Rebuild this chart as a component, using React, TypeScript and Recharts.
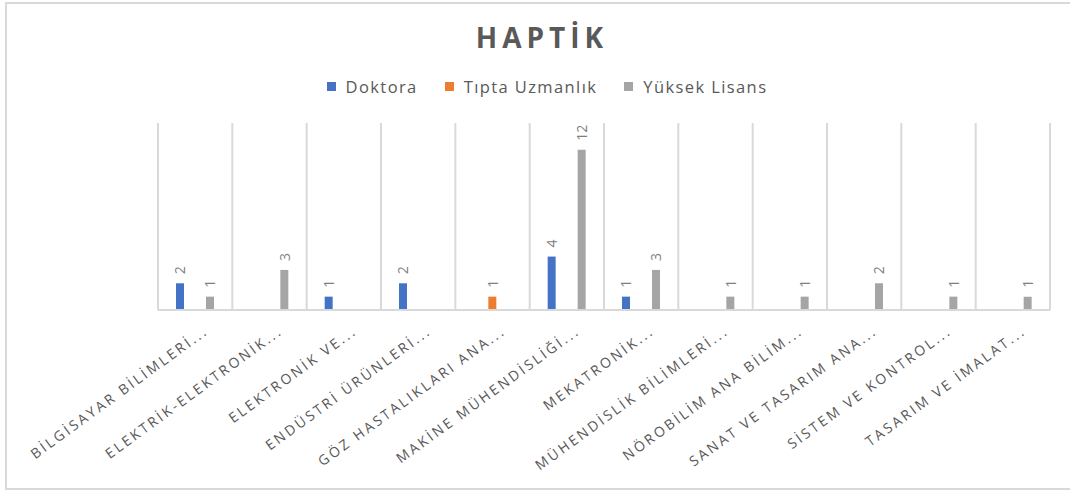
import React from 'react';
import { BarChart, Bar, XAxis, YAxis, CartesianGrid, Legend, LabelList } from 'recharts';

const categories = [
    'BİLGİSAYAR BİLİMLERİ...',
    'ELEKTRİK-ELEKTRONİK...',
    'ELEKTRONİK VE...',
    'ENDÜSTRİ ÜRÜNLERİ...',
    'GÖZ HASTALIKLARI ANA...',
    'MAKİNE MÜHENDİSLİĞİ...',
    'MEKATRONİK...',
    'MÜHENDİSLİK BİLİMLERİ...',
    'NÖROBİLİM ANA BİLİM...',
    'SANAT VE TASARIM ANA...',
    'SİSTEM VE KONTROL...',
    'TASARIM VE İMALAT...',
];

const doktora = [2, null, 1, 2, null, 4, 1, null, null, null, null, null];
const tiptaUzmanlik = [null, null, null, null, 1, null, null, null, null, null, null, null];
const yuksekLisans = [1, 3, null, null, null, 12, 3, 1, 1, 2, 1, 1];

const series = [
    { key: 'doktora', name: 'Doktora', color: '#4472C4' },
    { key: 'tipta', name: 'Tıpta Uzmanlık', color: '#ED7D31' },
    { key: 'yuksek', name: 'Yüksek Lisans', color: '#A5A5A5' },
];

const data = categories.map((name, i) => ({
    name,
    doktora: doktora[i],
    tipta: tiptaUzmanlik[i],
    yuksek: yuksekLisans[i],
}));

const FONT = '"Open Sans", "DejaVu Sans", sans-serif';
const TEXT = '#595959';

const AngledTick = (props: any) => {
    const { x, y, payload } = props;
    return (
        <g transform={`translate(${x + 14},${y + 15})`}>
            <text
                transform="rotate(-36)"
                textAnchor="end"
                fill={TEXT}
                fontSize={14}
                fontFamily={FONT}
                letterSpacing={2.6}
            >
                {payload.value}
            </text>
        </g>
    );
};

const ValueLabel = (props: any) => {
    const { x, y, width, value } = props;
    if (value == null) return null;
    const cx = x + width / 2;
    const cy = y - 9;
    return (
        <text
            x={cx}
            y={cy}
            transform={`rotate(-90, ${cx}, ${cy})`}
            textAnchor="start"
            dominantBaseline="central"
            fill="#7F7F7F"
            fontSize={14}
            fontFamily={FONT}
        >
            {value}
        </text>
    );
};

const LegendContent = () => (
    <div style={{ display: 'flex', justifyContent: 'center', gap: 27, fontFamily: FONT, fontSize: 16.5, color: TEXT }}>
        {series.map((s) => (
            <div key={s.key} style={{ display: 'flex', alignItems: 'center', letterSpacing: 1.4 }}>
                <span style={{ width: 9, height: 9, background: s.color, marginRight: 10, display: 'inline-block' }} />
                {s.name}
            </div>
        ))}
    </div>
);

// gridlines sit on category boundaries, not on the category centres
const boundaryLines = ({ offset }: any) =>
    categories.map((_, i) => offset.left + (i * offset.width) / categories.length)
        .concat(offset.left + offset.width);

export default function App() {
    return (
        <div style={{ position: 'absolute', left: 0, top: 0, width: 1070, height: 490, background: '#fff', overflow: 'hidden' }}>
            <div
                style={{
                    position: 'absolute', left: 5, top: 2, width: 1080, height: 484,
                    border: '2px solid #D9D9D9', boxSizing: 'content-box',
                }}
            />
            <div
                style={{
                    position: 'absolute', left: 0, top: 18, width: 1084, textAlign: 'center',
                    fontFamily: FONT, fontWeight: 700, fontSize: 28, letterSpacing: 5, color: TEXT,
                }}
            >
                HAPTİK
            </div>
            <BarChart
                width={1070}
                height={490}
                data={data}
                margin={{ top: 123, right: 20, left: 158, bottom: 0 }}
                barSize={8}
                barGap={7}
            >
                <CartesianGrid
                    horizontal={false}
                    vertical
                    stroke="#D9D9D9"
                    strokeWidth={2}
                    verticalCoordinatesGenerator={boundaryLines}
                />
                <XAxis
                    dataKey="name"
                    interval={0}
                    height={180}
                    tickLine={false}
                    axisLine={{ stroke: '#D9D9D9', strokeWidth: 2 }}
                    tick={<AngledTick />}
                />
                <YAxis hide domain={[0, 14]} />
                <Legend
                    verticalAlign="middle"
                    layout="horizontal"
                    wrapperStyle={{ top: 75, left: 12, width: 1070 }}
                    content={<LegendContent />}
                />
                {series.map((s) => (
                    <Bar key={s.key} dataKey={s.key} name={s.name} fill={s.color} isAnimationActive={false}>
                        <LabelList dataKey={s.key} content={<ValueLabel />} />
                    </Bar>
                ))}
            </BarChart>
        </div>
    );
}
